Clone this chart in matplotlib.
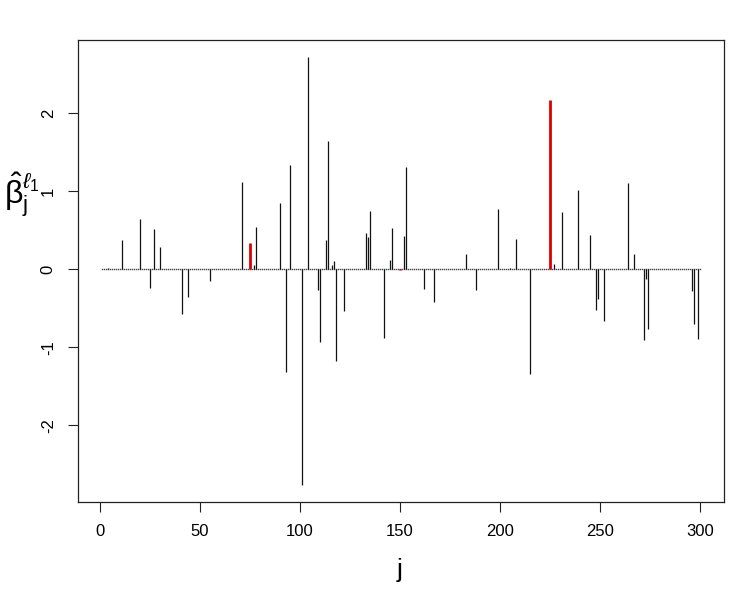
import numpy as np
import matplotlib
matplotlib.use("Agg")
import matplotlib.pyplot as plt

plt.rcParams["font.family"] = ["Liberation Sans", "DejaVu Sans"]
plt.rcParams["mathtext.fontset"] = "custom"
plt.rcParams["mathtext.rm"] = "Liberation Sans"
plt.rcParams["mathtext.it"] = "Liberation Sans:italic"

# ---------------------------------------------------------------- data
n_coef = 300
# nonzero coefficients (index j, estimated value)
nz_j = [4, 11, 20, 25, 27, 30, 41, 44, 55, 71, 77, 78, 90, 93, 95,
        101, 104, 109, 110, 113, 114, 116, 117, 118, 122, 133, 134, 135,
        142, 145, 146, 152, 153, 162, 167, 183, 188, 199, 205, 208, 215,
        227, 231, 239, 245, 248, 249, 252, 264, 267, 272, 273, 274,
        296, 297, 299]
nz_val = [0.02, 0.38, 0.65, -0.24, 0.52, 0.29, -0.58, -0.35, -0.15, 1.12,
          0.05, 0.54, 0.85, -1.32, 1.34,
          -2.77, 2.72, -0.27, -0.94, 0.38, 1.64, 0.06, 0.11, -1.18, -0.53,
          0.46, 0.42, 0.75,
          -0.88, 0.12, 0.53, 0.43, 1.31, -0.25, -0.42, 0.20, -0.26, 0.77,
          0.02, 0.39, -1.35,
          0.07, 0.74, 1.02, 0.44, -0.52, -0.38, -0.67, 1.11, 0.20, -0.91,
          -0.12, -0.77,
          -0.28, -0.70, -0.90]
# highlighted coefficients (drawn in red)
red_j = [75, 150, 225]
red_val = [0.34, -0.01, 2.17]

j_all = np.arange(1, n_coef + 1)

# ---------------------------------------------------------------- figure
fig = plt.figure(figsize=(7.36, 6.0), dpi=100)
ax = fig.add_axes([0.106, 0.163, 0.878, 0.770])

# zero-length spikes show up as a dotted baseline
ax.plot(j_all, np.zeros(n_coef), ls="none", marker="s", ms=1.0,
        mec="none", mfc="#444444", zorder=1)
ax.vlines(nz_j, 0, nz_val, color="#111111", lw=0.9, zorder=2)
ax.vlines(red_j, 0, red_val, color="#DD0000", lw=2.0, zorder=3)

ax.set_xlim(1 - 11.96, n_coef + 11.96)
ax.set_ylim(-2.99, 2.94)
ax.set_xticks([0, 50, 100, 150, 200, 250, 300])
ax.set_yticks([-2, -1, 0, 1, 2])
ax.set_yticklabels(["-2", "-1", "0", "1", "2"], rotation=90, va="center")
ax.tick_params(direction="out", length=7, width=0.8, labelsize=12,
               color="#222222")
ax.tick_params(axis="x", pad=9)
ax.tick_params(axis="y", pad=9)
for s in ax.spines.values():
    s.set_linewidth(0.9)
    s.set_color("#222222")

fig.text(0.543, 0.05, "j", ha="center", va="center", fontsize=19)
fig.text(0.006, 0.675, r"$\hat{\mathrm{\beta}}_{\mathrm{j}}^{\ell_1}$",
         ha="left", va="center", fontsize=23)

fig.savefig("out.png", dpi=100, facecolor="white")
